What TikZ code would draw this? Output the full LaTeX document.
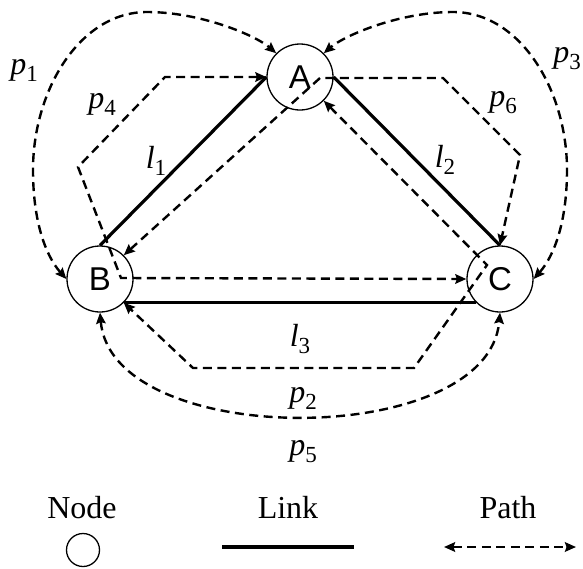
\documentclass[tikz,border=0pt]{standalone}
\usepackage{fontspec}
\setmainfont{Liberation Serif}
\setsansfont{Liberation Sans}
\usetikzlibrary{arrows.meta}
\newcommand\plab[2]{\textit{#1}\raisebox{-0.22em}{\fontsize{23}{23}\selectfont #2}}
\begin{document}
\begin{tikzpicture}[x=1pt,y=-1pt,
  nd/.style={circle,draw,line width=1.3pt,minimum size=66pt,inner sep=0pt,font=\fontsize{33}{33}\selectfont\sffamily},
  link/.style={line width=3.2pt},
  tipa/.tip={Stealth[length=11pt,width=9.5pt,inset=1.5pt]},
  pth/.style={line width=2.4pt,dash pattern=on 9pt off 5.5pt,tipa-tipa},
  lbl/.style={font=\fontsize{32}{32}\selectfont,inner sep=0pt}]
\useasboundingbox (0,0) rectangle (583,568);
% nodes
\node[nd] (A) at (300,77) {A};
\node[nd] (B) at (100,279) {B};
\node[nd] (C) at (500,279) {C};
% bend points
\coordinate (p4a) at (165,77);
\coordinate (p4b) at (78,167);
\coordinate (p4c) at (121,278);
\coordinate (p6a) at (320,78);
\coordinate (p6b) at (443,78);
\coordinate (p6c) at (520,155);
\coordinate (p2a) at (487,265);
\coordinate (p2b) at (414,368);
\coordinate (p2c) at (193,368);
% links
\draw[link] (B.north) -- (A.west);
\draw[link] (A.east) -- (C.north);
\draw[link] (B.-45) -- (C.-135);
% paths
\draw[pth] (B.west) .. controls (45,255) and (33,220) .. (33,170)
  .. controls (33,90) and (80,12) .. (147,12)
  .. controls (200,12) and (255,35) .. (A.135);
\draw[pth] (C.east) .. controls (555,255) and (567,220) .. (567,170)
  .. controls (567,90) and (520,12) .. (453,12)
  .. controls (400,12) and (345,35) .. (A.45);
\draw[pth] (A.west) -- (p4a) -- (p4b) -- (p4c) -- (C.west);
\draw[pth] (B.45) -- (p6a) -- (p6b) -- (p6c) -- (C.north);
\draw[pth] (A.-45) -- (p2a) -- (p2b) -- (p2c) -- (B.-45);
\draw[pth] (B.south) .. controls (112,450) and (488,450) .. (C.south);
% labels
\node[lbl] (lp1) at (24,70) {\plab{p}{1}};
\node[lbl] (lp3) at (567,59) {\plab{p}{3}};
\node[lbl] (lp4) at (102,104) {\plab{p}{4}};
\node[lbl] (lp6) at (503,103) {\plab{p}{6}};
\node[lbl] (ll1) at (156,161) {\plab{l}{1}};
\node[lbl] (ll2) at (445,160) {\plab{l}{2}};
\node[lbl] (ll3) at (300,339) {\plab{l}{3}};
\node[lbl] (lp2) at (303,398) {\plab{p}{2}};
\node[lbl] (lp5) at (303,452) {\plab{p}{5}};
% legend
\node[lbl,anchor=base] (tn) at (82,518) {Node};
\node[lbl,anchor=base] (tl) at (288,518) {Link};
\node[lbl,anchor=base] (tp) at (508,518) {Path};
\node[circle,draw,line width=1.3pt,minimum size=33pt,inner sep=0pt] (ln) at (83,550) {};
\coordinate (lk1) at (222,547);
\coordinate (lk2) at (354,547);
\draw[link] (lk1) -- (lk2);
\coordinate (lpa) at (444,547);
\coordinate (lpb) at (576,547);
\draw[pth] (lpa) -- (lpb);
\end{tikzpicture}
\end{document}
